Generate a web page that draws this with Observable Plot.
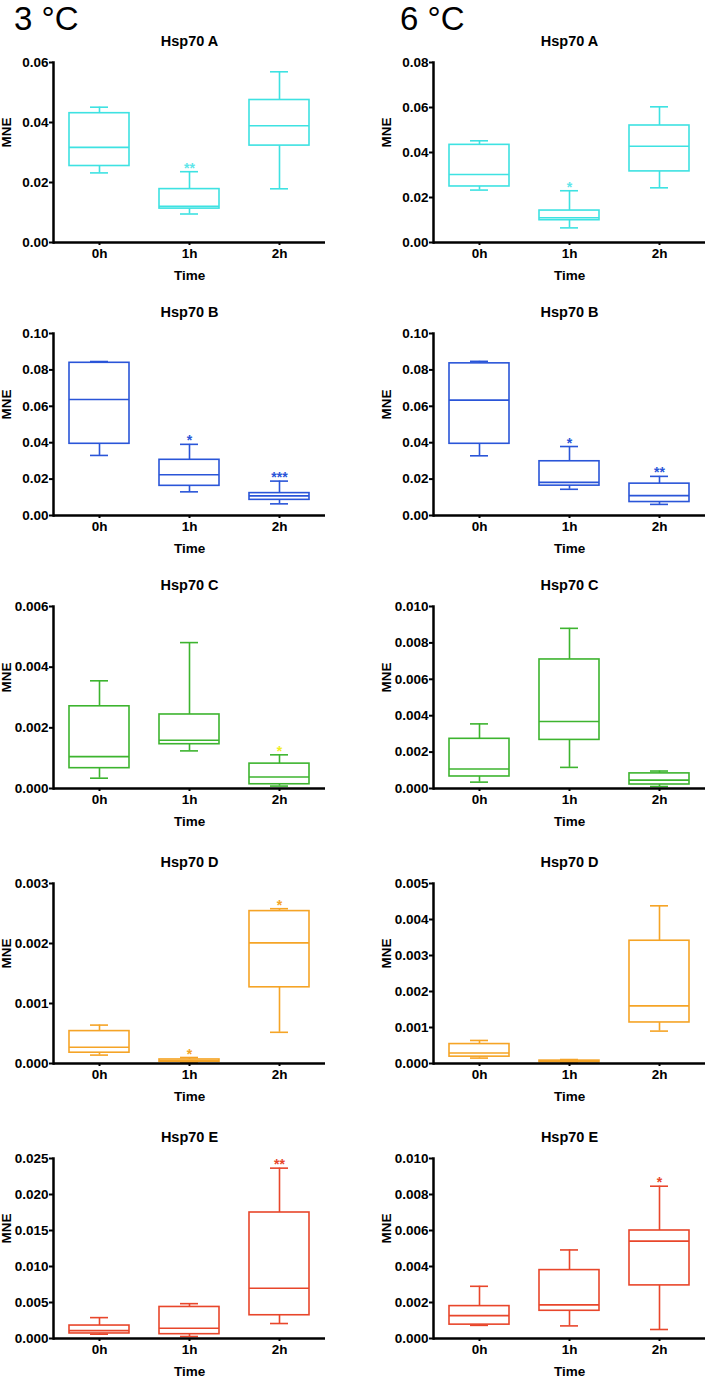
<!DOCTYPE html>
<html>
<head>
<meta charset="utf-8">
<script src="https://cdn.jsdelivr.net/npm/d3@7"></script>
<script src="https://cdn.jsdelivr.net/npm/@observablehq/plot@0.6"></script>
<style>
  html, body { margin: 0; padding: 0; background: #fff; }
  #root { position: relative; width: 706px; height: 1377px; overflow: hidden; font-family: "Liberation Sans", Arial, sans-serif; }
  .temp { position: absolute; top: 0px; font-size: 33px; line-height: 38px; color: #000; }
  .panel { position: absolute; }
</style>
</head>
<body>
<div id="root">
  <div class="temp" style="left:14px">3 °C</div>
  <div class="temp" style="left:400px">6 °C</div>
</div>
<script>
// Categories
const times = ["0h", "1h", "2h"];

// Five-number summaries per time point: [min, q1, median, q3, max]
const hsp70A_3C = [[0.0232, 0.0255, 0.0317, 0.0431, 0.0451], [0.0095, 0.0113, 0.0121, 0.0178, 0.0236], [0.0179, 0.0323, 0.0389, 0.0475, 0.0569]];
const hsp70A_6C = [[0.0233, 0.0249, 0.0302, 0.0434, 0.0452], [0.0065, 0.0099, 0.0110, 0.0142, 0.0230], [0.0243, 0.0316, 0.0428, 0.0520, 0.0603]];
const hsp70B_3C = [[0.0330, 0.0394, 0.0637, 0.0839, 0.0846], [0.0130, 0.0163, 0.0224, 0.0306, 0.0391], [0.0064, 0.0086, 0.0108, 0.0123, 0.0189]];
const hsp70B_6C = [[0.0328, 0.0394, 0.0634, 0.0836, 0.0847], [0.0144, 0.0164, 0.0182, 0.0298, 0.0379], [0.0061, 0.0074, 0.0109, 0.0175, 0.0215]];
const hsp70C_3C = [[0.00034, 0.00067, 0.00105, 0.00271, 0.00355], [0.00124, 0.00146, 0.00159, 0.00244, 0.00481], [0.00008, 0.00014, 0.00038, 0.00082, 0.00111]];
const hsp70C_6C = [[0.00035, 0.00066, 0.00107, 0.00273, 0.00355], [0.00116, 0.00267, 0.00368, 0.00709, 0.00880], [0.00011, 0.00022, 0.00046, 0.00083, 0.00096]];
const hsp70D_3C = [[0.00014, 0.00018, 0.00027, 0.00054, 0.00064], [0.000015, 0.00003, 0.00005, 0.000067, 0.0001], [0.00052, 0.00127, 0.00201, 0.00254, 0.00258]];
const hsp70D_6C = [[0.00015, 0.00019, 0.00029, 0.00054, 0.00064], [0.00002, 0.00004, 0.00006, 0.00008, 0.00011], [0.00090, 0.00114, 0.00160, 0.00341, 0.00438]];
const hsp70E_3C = [[0.0006, 0.0007, 0.0011, 0.0018, 0.0029], [0.00028, 0.0006, 0.00143, 0.00438, 0.00484], [0.00208, 0.00323, 0.00697, 0.0175, 0.02366]];
const hsp70E_6C = [[0.00073, 0.00077, 0.00127, 0.0018, 0.0029], [0.0007, 0.00154, 0.00187, 0.0038, 0.00492], [0.0005, 0.00295, 0.00541, 0.0060, 0.00846]];

// Significance marks
const starsA_3C = ["", "**", ""];
const starsA_6C = ["", "*", ""];
const starsB_3C = ["", "*", "***"];
const starsB_6C = ["", "*", "**"];
const starsC_3C = ["", "", "*"];
const starsC_6C = ["", "", ""];
const starsD_3C = ["", "*", "*"];
const starsD_6C = ["", "", ""];
const starsE_3C = ["", "", "**"];
const starsE_6C = ["", "", "*"];

// Tick labels
const ticksA_3C = [0, 0.02, 0.04, 0.06];
const ticksA_6C = [0, 0.02, 0.04, 0.06, 0.08];
const ticksB = [0, 0.02, 0.04, 0.06, 0.08, 0.10];
const ticksC_3C = [0, 0.002, 0.004, 0.006];
const ticksC_6C = [0, 0.002, 0.004, 0.006, 0.008, 0.010];
const ticksD_3C = [0, 0.001, 0.002, 0.003];
const ticksD_6C = [0, 0.001, 0.002, 0.003, 0.004, 0.005];
const ticksE_3C = [0, 0.005, 0.010, 0.015, 0.020, 0.025];
const ticksE_6C = [0, 0.002, 0.004, 0.006, 0.008, 0.010];

const cyan = "#3ee2e2", blue = "#2a55d8", green = "#3db42f", orange = "#f5a426", red = "#e8462b";

// Row positions (frame top, zero line) in page pixels
const rowsPos = [[62, 242], [333, 515], [606, 788], [883, 1063], [1158, 1338]];

const panels = [
  {row: 0, col: 0, title: "Hsp70 A", data: hsp70A_3C, stars: starsA_3C, ticks: ticksA_3C, fmt: ".2f", color: cyan, star: "#5ee6ea"},
  {row: 0, col: 1, title: "Hsp70 A", data: hsp70A_6C, stars: starsA_6C, ticks: ticksA_6C, fmt: ".2f", color: cyan, star: "#5ee6ea"},
  {row: 1, col: 0, title: "Hsp70 B", data: hsp70B_3C, stars: starsB_3C, ticks: ticksB, fmt: ".2f", color: blue, star: blue},
  {row: 1, col: 1, title: "Hsp70 B", data: hsp70B_6C, stars: starsB_6C, ticks: ticksB, fmt: ".2f", color: blue, star: blue},
  {row: 2, col: 0, title: "Hsp70 C", data: hsp70C_3C, stars: starsC_3C, ticks: ticksC_3C, fmt: ".3f", color: green, star: "#f2ee1e"},
  {row: 2, col: 1, title: "Hsp70 C", data: hsp70C_6C, stars: starsC_6C, ticks: ticksC_6C, fmt: ".3f", color: green, star: green},
  {row: 3, col: 0, title: "Hsp70 D", data: hsp70D_3C, stars: starsD_3C, ticks: ticksD_3C, fmt: ".3f", color: orange, star: orange},
  {row: 3, col: 1, title: "Hsp70 D", data: hsp70D_6C, stars: starsD_6C, ticks: ticksD_6C, fmt: ".3f", color: orange, star: orange},
  {row: 4, col: 0, title: "Hsp70 E", data: hsp70E_3C, stars: starsE_3C, ticks: ticksE_3C, fmt: ".3f", color: red, star: red},
  {row: 4, col: 1, title: "Hsp70 E", data: hsp70E_6C, stars: starsE_6C, ticks: ticksE_6C, fmt: ".3f", color: red, star: red}
];

const root = document.getElementById("root");
const mTop = 40, mBottom = 45;

for (const p of panels) {
  const [top, zero] = rowsPos[p.row];
  const inner = zero - top;
  const rows = times.map((t, i) => ({
    time: t, min: p.data[i][0], q1: p.data[i][1], med: p.data[i][2], q3: p.data[i][3], max: p.data[i][4], star: p.stars[i]
  }));
  const yMax = p.ticks[p.ticks.length - 1];
  const lw = 1.6;
  const chart = Plot.plot({
    width: 326,
    height: inner + mTop + mBottom,
    marginLeft: 53, marginRight: 1, marginTop: mTop, marginBottom: mBottom,
    style: {fontFamily: "'Liberation Sans', Arial, sans-serif", fontWeight: "bold", fontSize: "13.5px", color: "#000", background: "transparent", overflow: "visible"},
    x: {domain: times, padding: 0},
    y: {domain: [0, yMax]},
    marks: [
      Plot.ruleX(rows, {x: "time", y1: "q3", y2: "max", stroke: p.color, strokeWidth: lw}),
      Plot.ruleX(rows, {x: "time", y1: "min", y2: "q1", stroke: p.color, strokeWidth: lw}),
      Plot.tickY(rows, {x: "time", y: "max", insetLeft: 36, insetRight: 36, stroke: p.color, strokeWidth: lw}),
      Plot.tickY(rows, {x: "time", y: "min", insetLeft: 36, insetRight: 36, stroke: p.color, strokeWidth: lw}),
      Plot.barY(rows, {x: "time", y1: "q1", y2: "q3", insetLeft: 15, insetRight: 15, fill: "white", stroke: p.color, strokeWidth: lw}),
      Plot.tickY(rows, {x: "time", y: "med", insetLeft: 15, insetRight: 15, stroke: p.color, strokeWidth: lw}),
      Plot.text(rows, {x: "time", y: "max", text: "star", lineAnchor: "bottom", dy: 1, fill: p.star, fontSize: 14}),
      Plot.axisX({tickSize: 3, tickPadding: 3, strokeWidth: 2, label: null}),
      Plot.axisY({ticks: p.ticks, tickFormat: d3.format(p.fmt), tickSize: 4, tickPadding: 1, strokeWidth: 2, label: null}),
      Plot.frame({anchor: "left", strokeWidth: 2.5}),
      Plot.ruleY([0], {strokeWidth: 2.5}),
      Plot.text([p.title], {frameAnchor: "top", lineAnchor: "bottom", dy: -17, fontSize: 14.5}),
      Plot.text(["Time"], {frameAnchor: "bottom", lineAnchor: "bottom", dy: 37, fontSize: 13.5}),
      Plot.text(["MNE"], {frameAnchor: "left", rotate: -90, dx: -47, dy: -5, fontSize: 13.5})
    ]
  });
  const div = document.createElement("div");
  div.className = "panel";
  div.style.left = (p.col === 0 ? 0 : 380) + "px";
  div.style.top = (top - mTop) + "px";
  div.appendChild(chart);
  root.appendChild(div);
}
</script>
</body>
</html>
